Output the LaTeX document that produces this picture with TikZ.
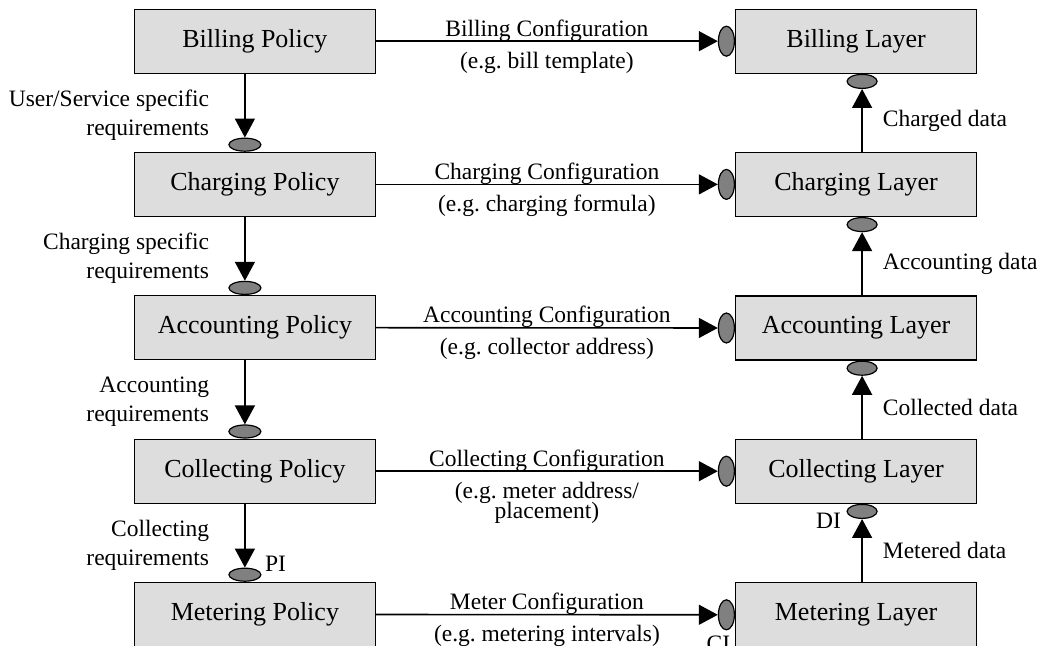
\documentclass[tikz,border=0pt]{standalone}
\usepackage{fontspec}
\setmainfont{Liberation Serif}
\usepackage{xcolor}
\usepackage{tikz}
\usetikzlibrary{matrix,shapes.geometric,arrows.meta}
\definecolor{boxgray}{HTML}{DDDDDD}
\definecolor{portgray}{HTML}{808080}
\frenchspacing

\begin{document}
\begin{tikzpicture}[x=0.5pt, y=-0.5pt, line width=0.6pt,
	box/.style={draw, fill=boxgray, minimum width=120.5pt, minimum height=32pt, inner sep=0pt, font=\fontsize{13}{15}\selectfont},
	port/.style={draw, ellipse, fill=portgray, inner sep=0pt},
	vport/.style={port, minimum width=16pt, minimum height=6.5pt},
	uport/.style={port, minimum width=15pt, minimum height=7pt},
	hport/.style={port, minimum width=8pt, minimum height=15pt},
	flow/.style={-{Triangle[length=9.5pt, width=10pt]}, line width=0.8pt},
	lbl/.style={inner sep=0pt, font=\fontsize{11.75}{14.5}\selectfont},
	cfgtop/.style={lbl, anchor=base, yshift=2.5pt},
	cfgbot/.style={lbl, anchor=base, yshift=-13.5pt},
	req/.style={lbl, align=right, anchor=east, xshift=-17.5pt},
	dat/.style={lbl, anchor=west, xshift=10pt}]
	\useasboundingbox (0,0) rectangle (1040,646);
	\matrix(m)[matrix of nodes, nodes={box}, column sep=179.5pt, row sep=39pt] at (555.5,328){
		Billing Policy		& Billing Layer		\\
		Charging Policy		& Charging Layer	\\
		Accounting Policy	& Accounting Layer	\\
		Collecting Policy	& Collecting Layer	\\
		Metering Policy		& Metering Layer	\\
	};
	\foreach \i in {2,...,5}
		\node[vport, anchor=south] (q\i) at ([xshift=-5pt]m-\i-1.north) {};
	\foreach \i in {1,...,5}
		\node[hport, anchor=east] (h\i) at (m-\i-2.west) {};
	\foreach \i in {1,...,4}
		\node[uport, anchor=north] (u\i) at ([xshift=3pt]m-\i-2.south) {};

	\draw[flow] (m-1-1) -- node[cfgtop, midway]{Billing Configuration} node[cfgbot, midway]{(e.g. bill template)} (h1);
	\draw[flow] (m-2-1) -- node[cfgtop, midway]{Charging Configuration} node[cfgbot, midway]{(e.g. charging formula)} (h2);
	\draw[flow] (m-3-1) -- node[cfgtop, midway]{Accounting Configuration} node[cfgbot, midway]{(e.g. collector address)} (h3);
	\draw[flow] (m-4-1) -- node[cfgtop, midway]{Collecting Configuration} node[lbl, midway, anchor=north, yshift=-5.2pt, align=center]{(e.g. meter address/\\[-4.5pt]placement)} (h4);
	\draw[flow] (m-5-1) -- node[cfgtop, midway]{Meter Configuration} node[cfgbot, midway]{(e.g. metering intervals)} (h5);

	\draw[flow] (m-1-1.south -| q2) -- node[req, pos=0.65]{User/Service specific\\requirements} (q2);
	\draw[flow] (m-2-1.south -| q3) -- node[req, pos=0.65]{Charging specific\\requirements} (q3);
	\draw[flow] (m-3-1.south -| q4) -- node[req, pos=0.65]{Accounting\\requirements} (q4);
	\draw[flow] (m-4-1.south -| q5) -- node[req, pos=0.65]{Collecting\\requirements} (q5);

	\draw[flow] (m-2-2.north -| u1) -- node[dat, midway]{Charged data} (u1);
	\draw[flow] (m-3-2.north -| u2) -- node[dat, midway]{Accounting data} (u2);
	\draw[flow] (m-4-2.north -| u3) -- node[dat, midway]{Collected data} (u3);
	\draw[flow] (m-5-2.north -| u4) -- node[dat, midway]{Metered data} (u4);

	\node[lbl, anchor=base west] (pi) at ([xshift=1.5pt, yshift=1.5pt]q5.east) {PI};
	\node[lbl, anchor=base east] (di) at ([xshift=-2.5pt, yshift=-8.5pt]u4.west) {DI};
	\node[lbl, anchor=north] (ci) at ([xshift=-4pt, yshift=-2.5pt]h5.south) {CI};
\end{tikzpicture}
\end{document}
